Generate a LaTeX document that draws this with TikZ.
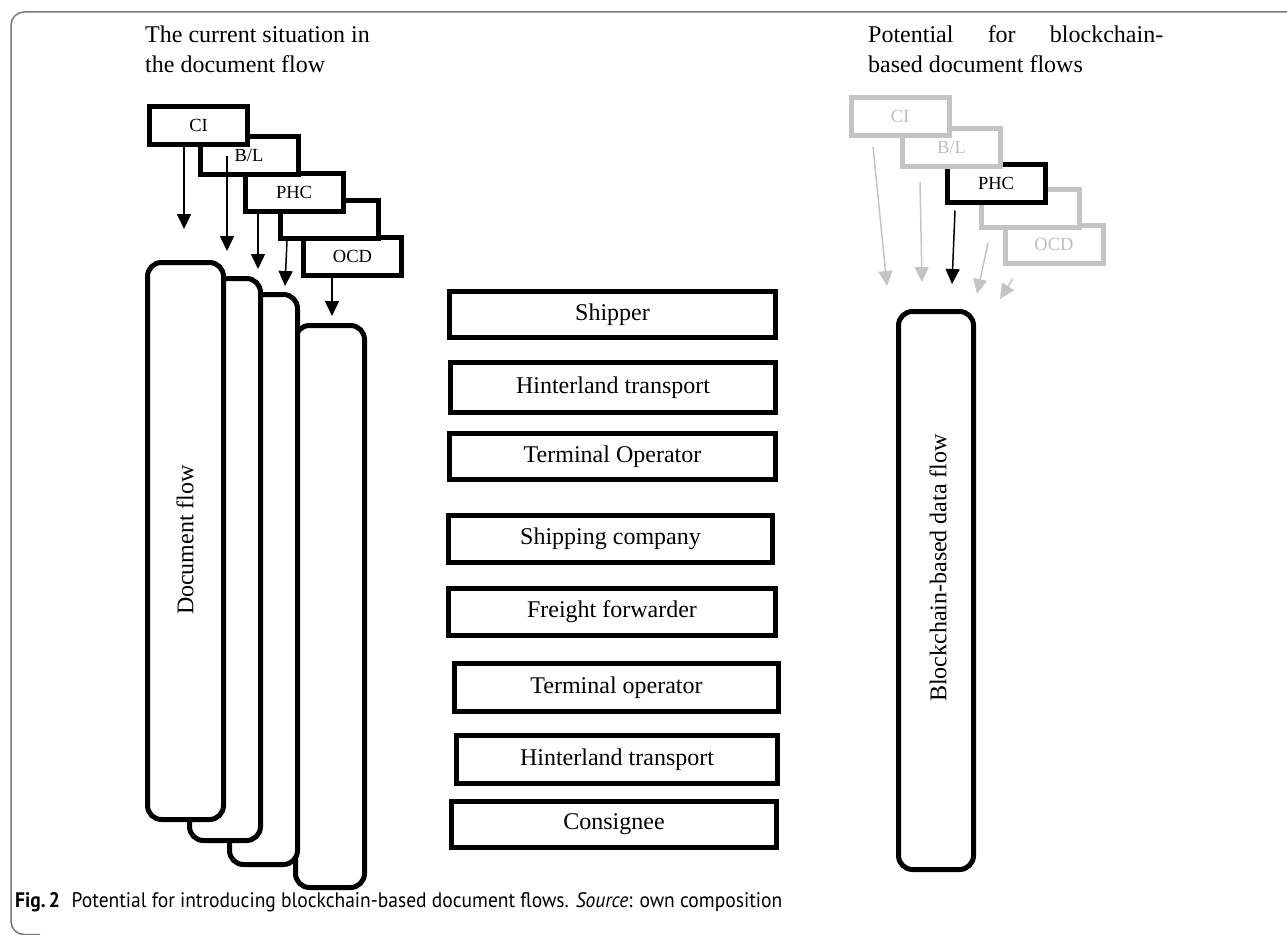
\documentclass[tikz,border=0pt]{standalone}
\usepackage{fontspec}
\setmainfont{Liberation Serif}
\newfontfamily\capfont{PT Sans}
\usetikzlibrary{arrows.meta,calc}
\definecolor{boxgray}{RGB}{196,196,196}
\definecolor{txtgray}{RGB}{190,190,190}
\definecolor{framegray}{RGB}{120,120,120}
\begin{document}
\begin{tikzpicture}[x=1pt,y=-1pt,
  docbox/.style={draw, line width=5pt, fill=white, inner sep=0pt, font=\fontsize{18.5}{20}\selectfont, minimum width=98pt, minimum height=38pt},
  graybox/.style={docbox, draw=boxgray, text=txtgray},
  flowbox/.style={draw, line width=5pt, fill=white, rounded corners=14pt, inner sep=0pt},
  actorbox/.style={draw, line width=5pt, fill=white, inner sep=0pt, font=\fontsize{24}{28}\selectfont},
  title/.style={inner sep=0pt, font=\fontsize{24}{29}\selectfont, anchor=base west},
  vtext/.style={inner sep=0pt, rotate=90, font=\fontsize{24}{29}\selectfont},
  docarrow/.style={line width=1.5pt, -{Triangle[width=14pt,length=15pt]}},
  grayarrow/.style={docarrow, draw=boxgray, fill=boxgray}
]
\useasboundingbox (0,0) rectangle (1287,934);
% frame
\draw[framegray, line width=1.5pt, rounded corners=13pt] (1300,12) -- (11,12) -- (11,934.5) -- (40,934.5);

% titles
\node[title] (tl1) at (145,43) {The current situation in};
\node[title] (tl2) at (145,72) {the document flow};
\node[title] (tr1) at (868,43) {\hbox to 295pt{Potential\hfill for\hfill blockchain-}};
\node[title] (tr2) at (868,72) {based document flows};

% left document stack (back to front)
\node[docbox] (OCD) at (352.5,256) {OCD};
\node[docbox] (BLK) at (329,219) {};
\node[docbox] (PHC) at (294,192) {PHC};
\node[docbox] (BL) at (249,155.5) {\raisebox{-5pt}{B/L}};
\node[docbox] (CI) at (198.5,125) {CI};

% left flow rectangles
\node[flowbox, minimum width=69pt, minimum height=562pt] (R4) at (330,606.5) {};
\node[flowbox, minimum width=68pt, minimum height=570pt] (R3) at (263.5,579.5) {};
\node[flowbox, minimum width=71pt, minimum height=562pt] (R2) at (225,559.5) {};
\node[flowbox, minimum width=76pt, minimum height=557pt] (R1) at (185.5,541) {};
\node[vtext] (DF) at (185,540) {Document flow};

% left arrows
\coordinate (t1) at (184,229);
\coordinate (t2) at (227,251);
\coordinate (t3) at (258,269);
\coordinate (t4) at (285,286);
\coordinate (t5) at (332,316);
\draw[docarrow] ([xshift=-14.5pt]CI.south) -- (t1);
\draw[docarrow] ([xshift=-22pt]BL.center) -- (t2);
\draw[docarrow] ([xshift=-36pt]PHC.south) -- (t3);
\draw[docarrow] ([xshift=-42pt]BLK.south) -- (t4);
\draw[docarrow] ([xshift=-20.5pt]OCD.south) -- (t5);

% middle actors
\node[actorbox, minimum width=326pt, minimum height=46pt] (A1) at (612.5,314.5) {Shipper};
\node[actorbox, minimum width=325pt, minimum height=50pt] (A2) at (613,387.5) {Hinterland transport};
\node[actorbox, minimum width=326pt, minimum height=46pt] (A3) at (612.5,456.5) {Terminal Operator};
\node[actorbox, minimum width=324pt, minimum height=47pt] (A4) at (610.5,539) {Shipping company};
\node[actorbox, minimum width=327pt, minimum height=47pt] (A5) at (612,612) {Freight forwarder};
\node[actorbox, minimum width=324pt, minimum height=48pt] (A6) at (616.5,687.5) {Terminal operator};
\node[actorbox, minimum width=321pt, minimum height=48pt] (A7) at (617,759.5) {Hinterland transport};
\node[actorbox, minimum width=325pt, minimum height=46pt] (A8) at (614,824.5) {Consignee};

% right document stack (back to front)
\node[graybox] (OCDg) at (1054,244) {OCD};
\node[graybox] (BLKg) at (1030,208.5) {};
\node[docbox] (PHCg) at (996,183) {PHC};
\node[graybox] (BLg) at (951.5,147.5) {B/L};
\node[graybox] (CIg) at (900,116.5) {CI};

% right arrows
\coordinate (u1) at (887,286);
\coordinate (u2) at (922,282);
\coordinate (u3) at (952,284);
\coordinate (u4) at (977,294);
\coordinate (u5) at (1000,299);
\draw[grayarrow] ([xshift=-27pt,yshift=-9pt]CIg.south) -- (u1);
\draw[grayarrow] ([xshift=-31.5pt,yshift=-13pt]BLg.south) -- (u2);
\draw[docarrow] ([xshift=-41pt,yshift=-6pt]PHCg.south) -- (u3);
\draw[grayarrow] ([xshift=-42pt,yshift=-13pt]BLKg.south) -- (u4);
\draw[grayarrow] ([xshift=-41pt,yshift=-13pt]OCDg.south) -- (u5);

% blockchain rectangle
\node[flowbox, minimum width=75pt, minimum height=558pt] (BC) at (936,590.5) {};
\node[vtext] (BCT) at (938,568) {Blockchain-based data flow};

% caption
\node[inner sep=0pt, anchor=base west] (cap) at (15,907) {\resizebox{767pt}{\height}{\capfont\fontsize{21}{24}\selectfont\textbf{Fig.\,2}\hspace{0.6em}Potential for introducing blockchain-based document flows. \textit{Source}: own composition}};
\end{tikzpicture}
\end{document}
